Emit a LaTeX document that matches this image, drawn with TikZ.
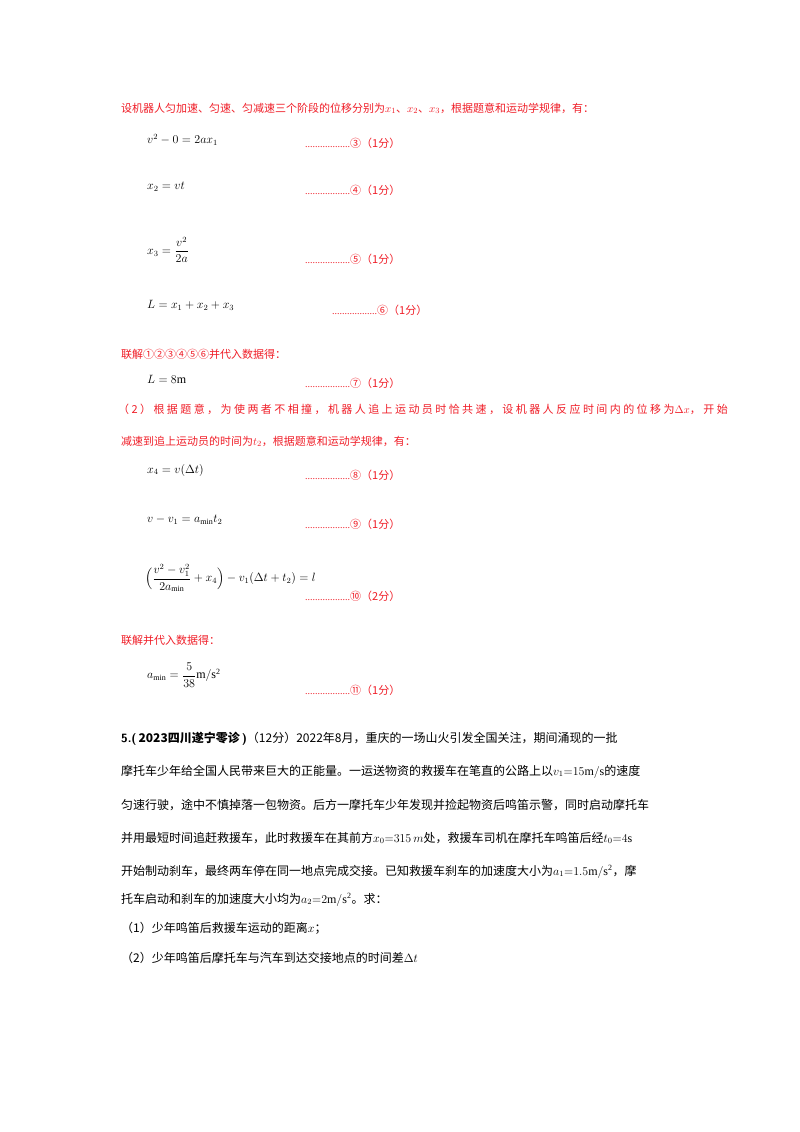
\documentclass[tikz,border=0pt]{standalone}
\usepackage{fontspec}
\usepackage{amsmath}
\setmainfont{Liberation Serif}
\newfontfamily\cjk{Noto Sans CJK SC}
\newfontfamily\cjkwide[LetterSpace=22]{Noto Sans CJK SC}
\definecolor{ansred}{RGB}{240,30,40}
\tikzset{
  red/.style={anchor=base west,inner sep=0pt,text=ansred,font=\cjk\fontsize{11}{12}\selectfont},
  eqn/.style={anchor=west,inner sep=0pt,font=\fontsize{12}{14}\selectfont},
  pts/.style={anchor=base west,inner sep=0pt,text=ansred,font=\cjk\fontsize{11}{12}\selectfont},
  q/.style={anchor=base west,inner sep=0pt,font=\cjk\fontsize{12}{15}\selectfont},
}
\newcommand{\dd}{\textrm{\fontsize{10}{10}\selectfont..................}}
\begin{document}
\begin{tikzpicture}[x=1pt,y=-1pt]
\useasboundingbox[fill=white] (0,0) rectangle (800,1132);
\node[red] (t1) at (121,112) {设机器人匀加速、匀速、匀减速三个阶段的位移分别为$x_1$、$x_2$、$x_3$，根据题意和运动学规律，有：};
\node[eqn] (e1) at (147,140) {$v^2-0=2ax_1$};
\node[pts] (p1) at (305,147) {\dd③（1分）};
\node[eqn] (e2) at (147,187) {$x_2=vt$};
\node[pts] (p2) at (305,194) {\dd④（1分）};
\node[eqn] (e3) at (147,250) {$x_3=\dfrac{v^2}{2a}$};
\node[pts] (p3) at (305,263) {\dd⑤（1分）};
\node[eqn] (e4) at (147,305) {$L=x_1+x_2+x_3$};
\node[pts] (p4) at (332,314) {\dd⑥（1分）};
\node[red] (t2) at (121,358) {联解①②③④⑤⑥并代入数据得：};
\node[eqn] (e5) at (147,379) {$L=8\mathrm{m}$};
\node[pts] (p5) at (305,387) {\dd⑦（1分）};
\node[red,font=\cjkwide\fontsize{11}{12}\selectfont] (t3) at (118,413) {（2）根据题意，为使两者不相撞，机器人追上运动员时恰共速，设机器人反应时间内的位移为$\Delta x$，开始};
\node[red] (t4) at (121,445) {减速到追上运动员的时间为$t_2$，根据题意和运动学规律，有：};
\node[eqn] (e6) at (147,470) {$x_4=v(\Delta t)$};
\node[pts] (p6) at (305,479) {\dd⑧（1分）};
\node[eqn] (e7) at (147,520) {$v-v_1=a_{\min}t_2$};
\node[pts] (p7) at (305,528) {\dd⑨（1分）};
\node[eqn] (e8) at (145,578) {$\Bigl(\dfrac{v^2-v_1^2}{2a_{\min}}+x_4\Bigr)-v_1(\Delta t+t_2)=l$};
\node[pts] (p8) at (305,600) {\dd⑩（2分）};
\node[red] (t5) at (121,644) {联解并代入数据得：};
\node[eqn] (e9) at (147,675) {$a_{\min}=\dfrac{5}{38}\mathrm{m/s^2}$};
\node[pts] (p9) at (305,694) {\dd⑪（1分）};
\node[q] (q1) at (121,742) {\textbf{\sffamily 5.(}\,{\bfseries 2023四川遂宁零诊}\,\textbf{\sffamily )}（12分）2022年8月，重庆的一场山火引发全国关注，期间涌现的一批};
\node[q] (q2) at (121,775) {摩托车少年给全国人民带来巨大的正能量。一运送物资的救援车在笔直的公路上以$v_1{=}15\mathrm{m/s}$的速度};
\node[q] (q3) at (121,809) {匀速行驶，途中不慎掉落一包物资。后方一摩托车少年发现并捡起物资后鸣笛示警，同时启动摩托车};
\node[q] (q4) at (121,842) {并用最短时间追赶救援车，此时救援车在其前方$x_0{=}315\,m$处，救援车司机在摩托车鸣笛后经$t_0{=}4\mathrm{s}$};
\node[q] (q5) at (121,875) {开始制动刹车，最终两车停在同一地点完成交接。已知救援车刹车的加速度大小为$a_1{=}1.5\mathrm{m/s^2}$，摩};
\node[q] (q6) at (121,903) {托车启动和刹车的加速度大小均为$a_2{=}2\mathrm{m/s^2}$。求：};
\node[q] (q7) at (121,932) {（1）少年鸣笛后救援车运动的距离$x$；};
\node[q] (q8) at (121,962) {（2）少年鸣笛后摩托车与汽车到达交接地点的时间差$\Delta t$};
\end{tikzpicture}
\end{document}
